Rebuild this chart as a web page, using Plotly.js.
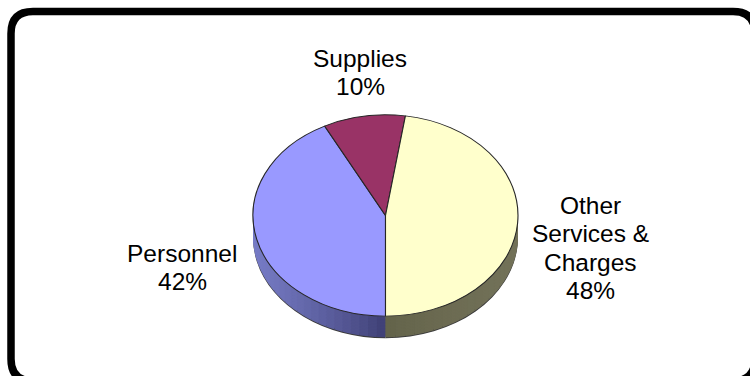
<!DOCTYPE html>
<html><head><meta charset="utf-8">
<script src="https://cdn.plot.ly/plotly-3.0.1.min.js"></script>
<style>
html,body{margin:0;padding:0;background:#fff;overflow:hidden;width:750px;height:376px}
#pie{position:absolute;left:0;top:0;width:750px;height:500px;transform:scaleY(0.76);transform-origin:0 0}
#overlay{position:absolute;left:0;top:0;width:750px;height:376px}
</style></head><body>
<div id="pie"></div><div id="overlay"></div>
<script>
// ---- data ----
const categories = ['Personnel', 'Supplies', 'Other Services & Charges'];
const labelLines = [['Personnel'], ['Supplies'], ['Other', 'Services &', 'Charges']];
const values = [42.4, 10.0, 47.6];
const topColors = ['#9999ff', '#993366', '#ffffcc'];
// side shading: [colour where the side faces the viewer, colour at the flank]
const sideShades = [['#3d3e72', '#777cc6'], ['#5c1f3e', '#5c1f3e'], ['#63634a', '#737259']];

// ---- helpers ----
function hex2rgb(h) { return [1, 3, 5].map(i => parseInt(h.substr(i, 2), 16)); }
function mix(a, b, t) {
  const A = hex2rgb(a), B = hex2rgb(b);
  return 'rgb(' + A.map((v, i) => Math.round(v + (B[i] - v) * t)).join(',') + ')';
}

// ---- pie geometry (pre-scale pixels in a 750x500 div, squashed by 0.76) ----
const W = 750, H = 500, SQ = 0.76;
const cx = 385.5, cyTop = 215.5 / SQ, R = 132.5, depth = 21 / SQ;
const N = 14, K = 40, ROT = 180;
const total = values.reduce((a, b) => a + b, 0);

// side layers: every slice split into K equal parts so the side can be shaded
const sideLabels = [], sideValues = [], sideColors = [];
let ang = ROT;
categories.forEach((c, k) => {
  const span = values[k] / total * 360;
  for (let j = 0; j < K; j++) {
    const mid = (ang + span * (j + 0.5) / K) * Math.PI / 180;
    const t = Math.pow(Math.abs(Math.sin(mid)), 0.8);
    sideLabels.push(c + ' #' + j);
    sideValues.push(values[k] / K);
    sideColors.push(mix(sideShades[k][0], sideShades[k][1], t));
  }
  ang += span;
});

function pieTrace(off, labels, vals, colors, line) {
  const top = cyTop - R + off, bot = cyTop + R + off;
  return {
    type: 'pie', labels: labels, values: vals, sort: false,
    direction: 'clockwise', rotation: ROT, textinfo: 'none', hoverinfo: 'skip', showlegend: false,
    domain: {x: [(cx - R) / W, (cx + R) / W], y: [1 - bot / H, 1 - top / H]},
    marker: {colors: colors, line: line}
  };
}
const traces = [];
// thin dark rim under the side
traces.push(pieTrace(depth + 1.4, categories, values, ['#3a3a3a', '#3a3a3a', '#3a3a3a'], {width: 0}));
for (let i = N; i >= 1; i--) {
  traces.push(pieTrace(depth * i / N, sideLabels, sideValues, sideColors, {width: 0}));
}
traces.push(pieTrace(0, categories, values, topColors, {color: '#262626', width: 1.1}));

Plotly.newPlot('pie', traces, {
  width: W, height: H, margin: {l: 0, r: 0, t: 0, b: 0},
  paper_bgcolor: '#ffffff', showlegend: false
}, {displayModeBar: false, staticPlot: true});

// ---- labels and frame ----
const labelPos = [{x: 182, y: 253}, {x: 360, y: 58}, {x: 590, y: 205}];
const pitch = 28.5;
const annotations = [];
categories.forEach((c, k) => {
  const lines = labelLines[k].concat([Math.round(values[k] / total * 100) + '%']);
  lines.forEach((t, j) => {
    annotations.push({
      x: labelPos[k].x, y: labelPos[k].y + j * pitch, xref: 'x', yref: 'y',
      text: t, showarrow: false, xanchor: 'center', yanchor: 'middle',
      font: {family: 'Liberation Sans, Arial, sans-serif', size: 24.5, color: '#000'}
    });
  });
});
const L = 11, T = 11.5, Rt = 755, B = 381, r = 22;
const framePath = `M ${L},${T + r} Q ${L},${T} ${L + r},${T} L ${Rt - r},${T} Q ${Rt},${T} ${Rt},${T + r} ` +
  `L ${Rt},${B - r} Q ${Rt},${B} ${Rt - r},${B} L ${L + r},${B} Q ${L},${B} ${L},${B - r} Z`;
Plotly.newPlot('overlay', [], {
  width: 750, height: 376, margin: {l: 0, r: 0, t: 0, b: 0},
  paper_bgcolor: 'rgba(0,0,0,0)', plot_bgcolor: 'rgba(0,0,0,0)',
  xaxis: {range: [0, 750], visible: false, fixedrange: true},
  yaxis: {range: [376, 0], visible: false, fixedrange: true},
  annotations: annotations,
  shapes: [{type: 'path', xref: 'x', yref: 'y', path: framePath, line: {color: '#000', width: 7.5}, fillcolor: 'rgba(0,0,0,0)'}]
}, {displayModeBar: false, staticPlot: true});
</script>
</body></html>
